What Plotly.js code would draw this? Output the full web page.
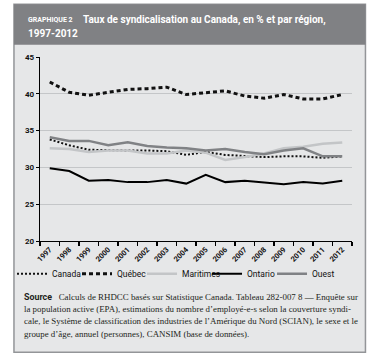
<!DOCTYPE html>
<html><head><meta charset="utf-8">
<script src="https://cdn.plot.ly/plotly-3.0.1.min.js"></script>
<style>html,body{margin:0;padding:0;background:#fff;}#c{width:370px;height:357px;}</style>
</head><body><div id="c"></div>
<script>
const years = ['1997','1998','1999','2000','2001','2002','2003','2004','2005','2006','2007','2008','2009','2010','2011','2012'];
const canada    = [33.8,33.0,32.4,32.3,32.3,32.3,32.2,31.7,32.1,31.7,31.5,31.4,31.5,31.5,31.3,31.5];
const quebec    = [41.6,40.2,39.8,40.2,40.6,40.7,40.9,39.9,40.2,40.4,39.7,39.4,39.9,39.3,39.3,39.9];
const maritimes = [32.6,32.5,32.1,32.3,32.3,31.9,31.9,32.3,32.0,31.0,31.4,31.9,32.6,32.8,33.2,33.4];
const ontario   = [29.9,29.5,28.2,28.3,28.0,28.0,28.3,27.8,29.0,28.0,28.2,28.0,27.7,28.0,27.8,28.2];
const ouest     = [34.1,33.6,33.6,33.0,33.4,32.9,32.7,32.6,32.3,32.5,32.1,31.8,32.3,32.6,31.5,31.5];
const yTicks = [20,25,30,35,40,45];

const W=370,H=357, L=31.7, R=351.7, T=57.3, B=241.3;
const fx = p => (p-L)/(R-L);
const fy = p => (B-p)/(B-T);

const traces = [
  {name:'Canada', y:canada, line:{color:'#111', width:2, dash:'2px,2px'}},
  {name:'Québec', y:quebec, line:{color:'#111', width:3, dash:'4px,3px'}},
  {name:'Maritimes', y:maritimes, line:{color:'#c3c5c7', width:2.5}},
  {name:'Ontario', y:ontario, line:{color:'#000', width:2}},
  {name:'Ouest', y:ouest, line:{color:'#808285', width:2.5}}
].map(t => Object.assign({x:years, type:'scatter', mode:'lines', hoverinfo:'skip'}, t));

const srcFont = {family:'Liberation Serif, serif', size:8.9, color:'#231f20'};
const srcLines = [
  '<span style="font-family:Roboto;font-weight:bold">Source</span>   Calculs de RHDCC basés sur Statistique Canada. Tableau 282-007 8 — Enquête sur',
  'la population active (EPA), estimations du nombre d’employé-e-s selon la couverture syndi-',
  'cale, le Système de classification des industries de l’Amérique du Nord (SCIAN), le sexe et le',
  'groupe d’âge, annuel (personnes), CANSIM (base de données).'
];
const srcY = [297, 309.3, 321.6, 333.9];

const annotations = [
  {text:'<b>GRAPHIQUE 2</b>', x:fx(17), y:fy(20.5), font:{family:'Roboto', size:7, color:'#fff'}},
  {text:'<b>Taux de syndicalisation au Canada, en % et par région,</b>', x:fx(74), y:fy(20), font:{family:'Roboto', size:10, color:'#fff'}},
  {text:'<b>1997-2012</b>', x:fx(17), y:fy(33.5), font:{family:'Roboto', size:10, color:'#fff'}}
].concat(srcLines.map((s,i)=>({text:s, x:fx(13), y:fy(srcY[i]), font:srcFont})))
 .map(a => Object.assign({xref:'paper', yref:'paper', xanchor:'left', yanchor:'middle', showarrow:false}, a));

const shapes = [
  {type:'rect', xref:'paper', yref:'paper', x0:fx(5), x1:fx(365.5), y0:fy(4.5), y1:fy(352.5), fillcolor:'#e6e7e8', line:{color:'#939598', width:1.5}, layer:'below'},
  {type:'rect', xref:'paper', yref:'paper', x0:fx(5), x1:fx(365.5), y0:fy(4.5), y1:fy(45), fillcolor:'#808184', line:{width:0}, layer:'below'}
];

const layout = {
  width:W, height:H,
  margin:{l:L, r:W-R, t:T, b:H-B, pad:0},
  paper_bgcolor:'#fff', plot_bgcolor:'rgba(0,0,0,0)',
  font:{family:'Roboto', color:'#111'},
  showlegend:true,
  legend:{orientation:'h', x:fx(3), y:fy(274), xanchor:'left', yanchor:'middle',
          font:{family:'Roboto', size:8.5, color:'#111'}, bgcolor:'rgba(0,0,0,0)', itemwidth:30,
          entrywidth:20, entrywidthmode:'pixels', tracegroupgap:0},
  xaxis:{type:'category', range:[-0.5,15.5], tickson:'boundaries', ticks:'outside', ticklen:4, tickwidth:1.2, tickcolor:'#000',
         showline:true, linecolor:'#000', linewidth:1.3, showgrid:false, zeroline:false, tickangle:-45,
         tickfont:{family:'Roboto', size:7.5, color:'#111', weight:'bold'}, fixedrange:true},
  yaxis:{range:[20,45], tickvals:yTicks, ticktext:yTicks.map(String), ticks:'outside', ticklen:3, tickcolor:'#000',
         showline:true, linecolor:'#000', linewidth:1.3, showgrid:true, gridcolor:'#c4c6c8', gridwidth:1, zeroline:false,
         tickfont:{family:'Roboto', size:8, color:'#111', weight:'bold'}, fixedrange:true},
  annotations, shapes
};
Plotly.newPlot('c', traces, layout, {staticPlot:true});
</script></body></html>
